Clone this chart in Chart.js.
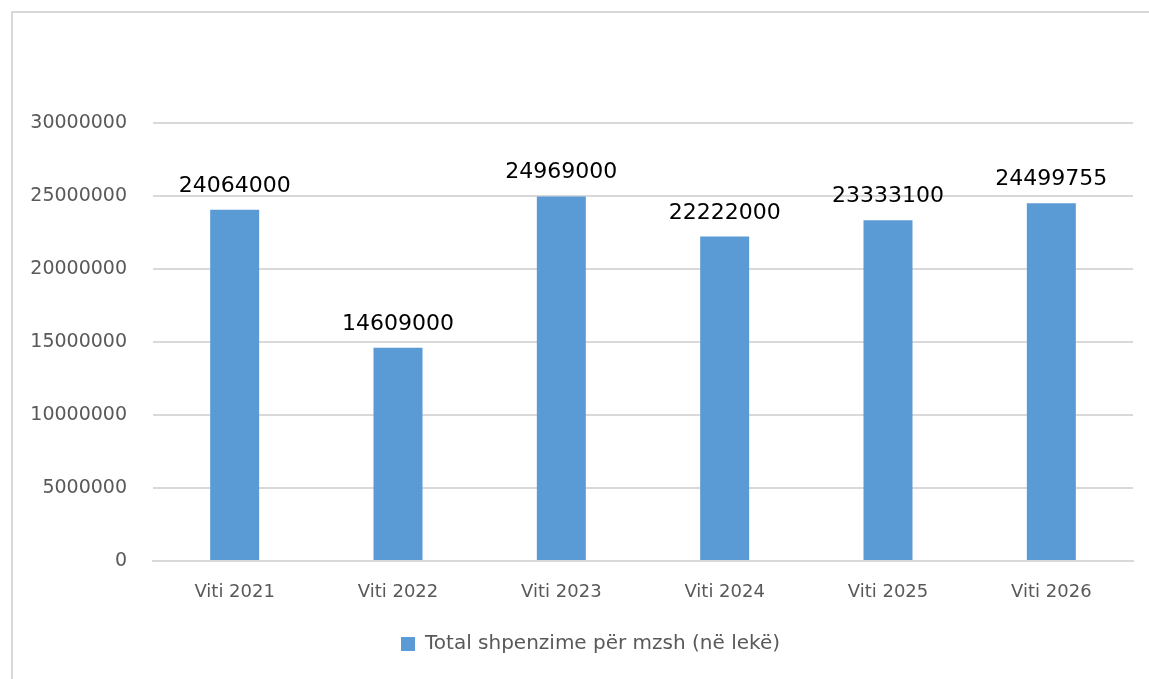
<!DOCTYPE html>
<html>
<head>
<meta charset="utf-8">
<script src="https://cdn.jsdelivr.net/npm/chart.js@4"></script>
<style>
	html, body { margin: 0; padding: 0; background: #fff; overflow: hidden; }
	#wrap { position: relative; width: 1149px; height: 679px; }
	#frame { position: absolute; left: 11px; top: 11px; width: 1200px; height: 700px; border: 2px solid #d9d9d9; box-sizing: border-box; }
	canvas { position: absolute; left: 0; top: 0; }
</style>
</head>
<body>
<div id="wrap">
	<div id="frame"></div>
	<canvas id="myChart" width="1149" height="679"></canvas>
</div>
<script>
const years = ['Viti 2021', 'Viti 2022', 'Viti 2023', 'Viti 2024', 'Viti 2025', 'Viti 2026'];
const spending = [24064000, 14609000, 24969000, 22222000, 23333100, 24499755];
const seriesLabel = 'Total shpenzime për mzsh (në lekë)';

const barColor = '#5b9bd5';
const textColor = '#595959';
const gridColor = '#d9d9d9';

// numbers above each bar
const valueLabels = {
	id: 'valueLabels',
	afterDatasetsDraw(chart) {
		const ctx = chart.ctx;
		const meta = chart.getDatasetMeta(0);
		ctx.save();
		ctx.font = '22px "DejaVu Sans"';
		ctx.fillStyle = '#000';
		ctx.textAlign = 'center';
		ctx.textBaseline = 'alphabetic';
		meta.data.forEach((bar, i) => {
			ctx.fillText(String(spending[i]), bar.x, bar.y - 18);
		});
		ctx.restore();
	}
};

// legend sits a bit right of the canvas centre in the original
const legendShift = {
	id: 'legendShift',
	afterLayout(chart) {
		chart.legend.left += 24;
		chart.legend.right += 24;
	}
};

var ctx = document.getElementById('myChart').getContext('2d');
var myChart = new Chart(ctx, {
	type: 'bar',
	data: {
		labels: years,
		datasets: [
			{
				label: seriesLabel,
				data: spending,
				backgroundColor: barColor,
				borderWidth: 0,
				barPercentage: 0.3,
				categoryPercentage: 1
			}
		]
	},
	options: {
		responsive: false,
		animation: false,
		layout: {
			padding: { left: 0, right: 16, top: 123, bottom: 15 }
		},
		plugins: {
			legend: {
				position: 'bottom',
				labels: {
					boxWidth: 14,
					boxHeight: 14,
					color: textColor,
					font: { family: 'DejaVu Sans', size: 20 },
					padding: 10
				}
			},
			tooltip: { enabled: false }
		},
		scales: {
			x: {
				grid: { display: false, drawTicks: false },
				border: { color: gridColor, width: 2 },
				ticks: {
					color: textColor,
					font: { family: 'DejaVu Sans', size: 18 },
					padding: 21
				},
				afterFit(scale) { scale.height = 63; }
			},
			y: {
				min: 0,
				max: 30000000,
				grid: { color: gridColor, lineWidth: 2, drawTicks: false },
				border: { display: false },
				ticks: {
					stepSize: 5000000,
					color: textColor,
					font: { family: 'DejaVu Sans', size: 19 },
					padding: 26,
					callback: (v) => String(v)
				},
				afterFit(scale) { scale.width = 153; }
			}
		}
	},
	plugins: [valueLabels, legendShift]
});
</script>
</body>
</html>
